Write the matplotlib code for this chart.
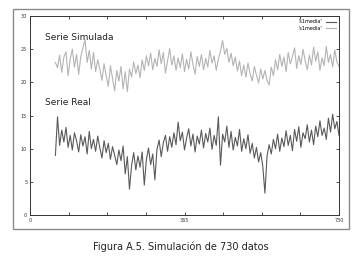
import numpy as np
import matplotlib
matplotlib.use("Agg")
import matplotlib.pyplot as plt
from matplotlib.patches import Rectangle

# days sampled every 5 days, from 60 to 730
dias = list(range(60, 731, 5))

serie_simulada = [
    23.0, 22.2, 24.1, 21.5, 23.8, 24.6, 21.0, 23.5, 25.0, 22.3,
    24.2, 21.2, 23.9, 25.2, 26.4, 23.0, 24.8, 22.0, 24.5, 21.6,
    23.4, 22.0, 20.3, 22.8, 21.0, 19.4, 22.5, 20.6, 18.7, 21.8,
    20.2, 22.4, 19.0, 21.6, 18.6, 22.0, 20.8, 23.1, 21.3, 22.6,
    20.7, 23.4, 21.8, 24.0, 22.5, 24.4, 21.9, 23.6, 22.4, 24.9,
    22.8, 24.5, 21.4, 23.3, 25.1, 22.6, 24.0, 21.8, 23.7, 22.2,
    24.3, 21.6, 23.5, 22.0, 24.6, 22.7, 21.2, 23.9, 22.4, 24.2,
    21.9, 23.6, 22.3, 24.8, 22.9, 24.0, 21.8, 23.5, 24.7, 26.3,
    24.2, 25.1, 23.0, 24.4, 22.5, 23.8, 21.7, 23.2, 21.0, 22.6,
    20.8, 22.9, 21.3, 20.2, 22.4, 21.1, 19.9, 22.0, 20.5, 21.8,
    20.3, 19.6, 22.3, 21.0, 23.4, 21.9, 24.2, 22.4, 23.8, 21.6,
    24.5, 22.8, 23.9, 25.2, 22.1, 24.0, 22.7, 25.0, 23.3, 21.9,
    24.1, 22.6, 25.3, 23.2, 24.6, 21.8, 23.7, 22.5, 25.4, 23.0,
    24.2, 22.3, 24.9, 23.1, 22.4,
]

serie_real = [
    9.0, 14.8, 10.5, 12.8, 11.0, 13.2, 10.2, 12.0, 9.8, 12.4,
    11.2, 9.5, 12.1, 10.4, 11.8, 9.2, 12.6, 10.0, 11.4, 9.6,
    11.9, 10.1, 8.6, 11.2, 9.4, 10.8, 8.4, 10.3, 9.0, 7.6,
    9.8, 8.2, 10.4, 6.2, 8.8, 3.9, 7.5, 9.4, 6.8, 8.9,
    7.2, 9.5, 4.5, 8.4, 10.1, 7.6, 9.2, 5.3, 9.9, 11.3,
    8.8, 10.9, 12.0, 9.6, 11.8, 10.2, 12.4, 10.6, 14.0, 11.2,
    12.5, 9.8, 11.6, 13.0, 10.4, 12.2, 9.5, 11.9, 10.7, 12.8,
    10.1, 12.3, 11.0, 13.1, 9.9, 12.0, 10.5, 14.8, 7.5, 12.2,
    11.0, 13.4, 10.2, 12.6, 9.8, 11.7, 10.4, 12.9, 9.6, 11.5,
    10.0, 12.1, 9.3, 10.8, 8.6, 10.2, 8.0, 9.4, 7.3, 3.3,
    8.9, 10.6, 9.2, 11.4, 10.0, 12.2, 9.6, 11.6, 10.3, 12.7,
    10.5, 12.0, 9.7, 12.9, 11.1, 13.3, 10.2, 12.4, 11.5, 13.6,
    11.0, 12.8, 10.6, 13.4, 11.8, 14.2, 12.0, 13.1, 11.4, 14.6,
    12.5, 15.2, 13.0, 14.1, 12.0,
]

x_ticks = np.arange(0, 731, 91.25)
x_labels = ["0", "", "", "", "365", "", "", "", "730"]
y_ticks = [0, 5, 10, 15, 20, 25, 30]

plt.rcParams["font.family"] = ["DejaVu Sans"]

fig = plt.figure(figsize=(3.61, 2.56), dpi=100)

# outer frame of the figure panel
fig.patches.append(Rectangle((13 / 361, 1 - 229 / 256), 336 / 361, 220 / 256,
                             transform=fig.transFigure, fill=False,
                             edgecolor="#8a8a8a", linewidth=1.0))

ax = fig.add_axes([30 / 361, 1 - 215 / 256, 309 / 361, 199 / 256])

ax.plot(dias, serie_real, color="#5a5a5a", linewidth=0.8, label="'s1media'")
ax.plot(dias, serie_simulada, color="#b4b4b4", linewidth=0.8, label="'s1media'")

ax.set_xlim(0, 730)
ax.set_ylim(0, 30)
ax.set_xticks(x_ticks)
ax.set_xticklabels(x_labels)
ax.set_yticks(y_ticks)
ax.tick_params(direction="in", top=True, right=True, length=2.5, width=0.6,
               labelsize=3.5, pad=2, colors="#333333")
for s in ax.spines.values():
    s.set_linewidth(0.7)
    s.set_color("#333333")

ax.text(35, 26.7, "Serie Simulada", fontsize=6.5, va="center", color="#222222")
ax.text(35, 16.9, "Serie Real", fontsize=6.5, va="center", color="#222222")

leg = ax.legend(loc="upper right", frameon=False, fontsize=3.5,
                markerfirst=False, handlelength=2.0, handletextpad=0.8,
                labelspacing=0.3, borderaxespad=0.3)

fig.text(0.5, 1 - 247 / 256, "Figura A.5. Simulación de 730 datos",
         ha="center", va="center", fontsize=7, color="#222222")

plt.savefig("out.png", dpi=100)
